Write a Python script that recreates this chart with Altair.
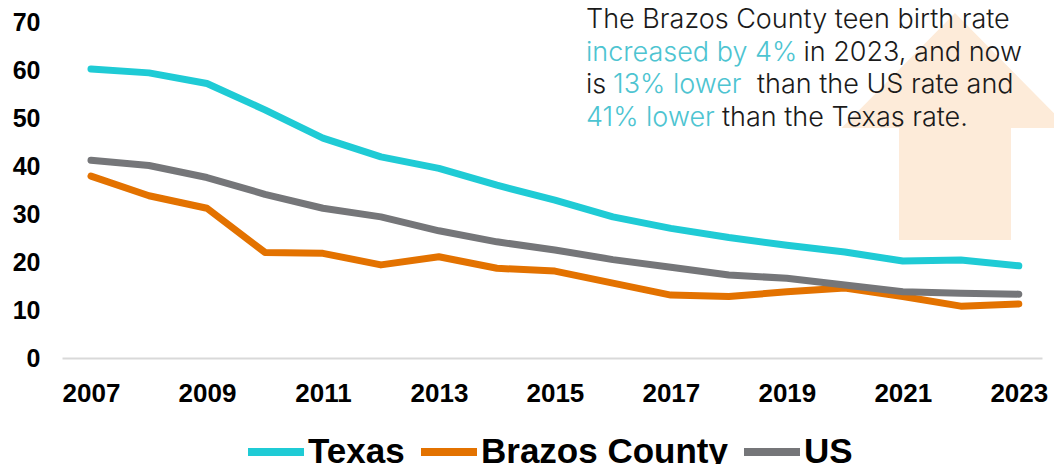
import altair as alt
import pandas as pd

years = list(range(2007, 2024))
texas = [60.2, 59.4, 57.2, 51.7, 45.8, 41.9, 39.5, 36.0, 32.9, 29.4, 27.0, 25.1, 23.5, 22.1, 20.2, 20.4, 19.2]
brazos = [37.9, 33.8, 31.2, 22.0, 21.8, 19.4, 21.1, 18.7, 18.1, 15.6, 13.1, 12.8, 13.8, 14.6, 12.8, 10.8, 11.25]
us = [41.2, 40.1, 37.6, 34.1, 31.2, 29.4, 26.5, 24.2, 22.5, 20.5, 18.9, 17.3, 16.6, 15.2, 13.8, 13.5, 13.3]
series_names = ["Texas", "Brazos County", "US"]
series_colors = ["#1FCBD5", "#E37200", "#757679"]
x_tick_years = [2007, 2009, 2011, 2013, 2015, 2017, 2019, 2021, 2023]
y_ticks = [0, 10, 20, 30, 40, 50, 60, 70]

rows = []
for name, vals in zip(series_names, [texas, brazos, us]):
    for yr, v in zip(years, vals):
        rows.append({"year": yr, "rate": v, "series": name})
df = pd.DataFrame(rows)

AXIS_FONT = "Liberation Sans"
TEXT_FONT = "Inter"
HILITE = "#4DC4D1"
DARK = "#1A1A1A"

lines = alt.Chart(df).mark_line(strokeWidth=7, strokeCap="round", strokeJoin="round").encode(
    x=alt.X("year:Q",
            scale=alt.Scale(domain=[2006.5, 2023.4], nice=False, zero=False),
            axis=alt.Axis(values=x_tick_years, format="d", title=None, grid=False, ticks=False,
                          domain=True, domainColor="#D9D9D9", domainWidth=2,
                          labelFont=AXIS_FONT, labelFontWeight="bold", labelFontSize=26,
                          labelColor="black", labelPadding=22, labelFlush=False)),
    y=alt.Y("rate:Q",
            scale=alt.Scale(domain=[0, 70], nice=False),
            axis=alt.Axis(values=y_ticks, title=None, grid=False, ticks=False, domain=False,
                          labelFont=AXIS_FONT, labelFontWeight="bold", labelFontSize=25,
                          labelColor="black", labelPadding=22)),
    color=alt.Color("series:N",
                    scale=alt.Scale(domain=series_names, range=series_colors),
                    sort=series_names,
                    legend=alt.Legend(title=None, orient="none", legendX=182, legendY=398,
                                      direction="horizontal", symbolType="stroke",
                                      symbolSize=3136, symbolStrokeWidth=8,
                                      labelFont=AXIS_FONT, labelFontWeight="bold",
                                      labelFontSize=35, labelColor="black",
                                      labelOffset=0, columnPadding=0, padding=0,
                                      labelLimit=400)),
)

one = pd.DataFrame({"k": [0]})

arrow_path = "M0,-1 L1,0.013 L0.493,0.013 L0.493,1 L-0.493,1 L-0.493,0.013 L-1,0.013 Z"
arrow = alt.Chart(one).mark_point(shape=arrow_path, size=51529, filled=True,
                                  color="#FDEBD9", opacity=1, strokeWidth=0).encode(
    x=alt.value(893), y=alt.value(104.5))

segments = [
    ("The Brazos County teen birth rate", DARK, 524, 5.7),
    ("increased by 4%", HILITE, 524, 38.5),
    ("in 2023, and now", DARK, 741.5, 38.5),
    ("is", DARK, 524, 71.3),
    ("13% lower", HILITE, 551, 71.3),
    ("than the US rate and", DARK, 695, 71.3),
    ("41% lower", HILITE, 524, 104),
    ("than the Texas rate.", DARK, 660, 104),
]
texts = []
for t, c, px, py in segments:
    texts.append(alt.Chart(one).mark_text(text=t, color=c, font=TEXT_FONT, fontSize=27,
                                          fontWeight=300, align="left", baseline="alphabetic").encode(
        x=alt.value(px), y=alt.value(py)))

chart = alt.layer(arrow, lines, *texts).properties(
    width=980, height=336,
    autosize=alt.AutoSizeParams(type="none"),
    padding={"left": 54, "top": 14, "right": 12, "bottom": 106},
).configure_view(stroke=None)

chart.save("out.html", embed_options={"renderer": "svg", "actions": False})
